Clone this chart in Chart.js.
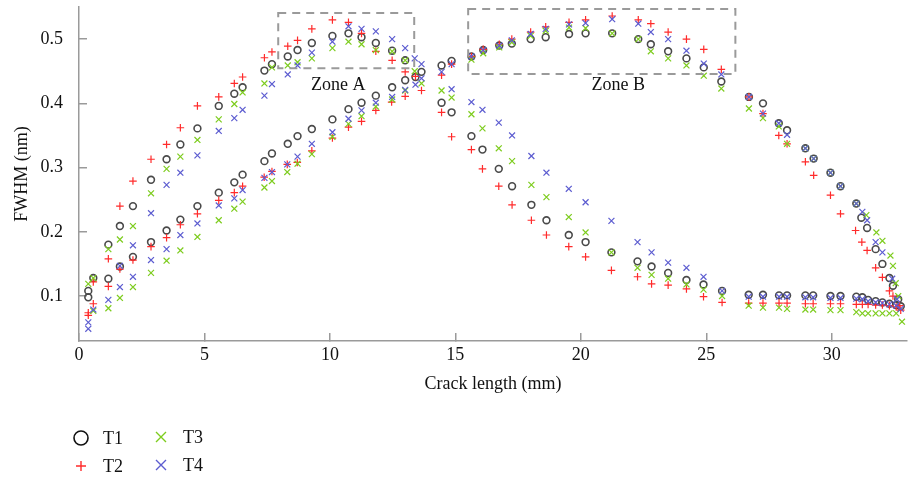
<!DOCTYPE html>
<html>
<head>
<meta charset="utf-8">
<script src="https://cdn.jsdelivr.net/npm/chart.js@4.4.0/dist/chart.umd.min.js"></script>
<style>
html, body { margin: 0; padding: 0; background: #fff; }
</style>
</head>
<body>
<canvas id="chart" width="921" height="481"></canvas>
<script>
// tick labels
const xTicks = [0, 5, 10, 15, 20, 25, 30];
const yTicks = [0.1, 0.2, 0.3, 0.4, 0.5];

// series values, [crack length mm, FWHM nm]
const t1 = [
  [0.37,0.108],[0.57,0.128],[1.17,0.180],[1.63,0.209],[2.15,0.240],[2.87,0.281],[3.49,0.313],[4.04,0.336],[4.72,0.361],[5.57,0.396],[6.19,0.415],[6.52,0.425],[7.39,0.451],[7.69,0.461],[8.32,0.473],[8.71,0.483],[9.28,0.494],[10.1,0.505],[10.74,0.509],[11.26,0.503],[11.83,0.494],[12.48,0.482],[13.0,0.467],[13.65,0.449],
  [0.37,0.098],[1.17,0.127],[1.63,0.146],[2.15,0.161],[2.87,0.184],[3.49,0.202],[4.04,0.219],[4.72,0.240],[5.57,0.261],[6.19,0.277],[6.52,0.289],[7.39,0.310],[7.69,0.322],[8.32,0.337],[8.71,0.349],[9.28,0.360],[10.1,0.375],[10.74,0.391],[11.26,0.401],[11.83,0.412],[12.48,0.425],[13.0,0.436],[13.41,0.441],
  [14.45,0.459],[14.85,0.466],[15.64,0.473],[16.11,0.483],[16.75,0.490],[17.25,0.493],[18.0,0.500],[18.6,0.503],[19.53,0.508],[20.19,0.509],[21.25,0.509],[22.29,0.500],[22.79,0.492],[23.48,0.481],[24.21,0.470],[24.9,0.456],[25.6,0.434],[26.7,0.410],[27.26,0.400],[27.89,0.369],[28.22,0.358],[28.95,0.330],[29.28,0.314],[29.95,0.292],[30.35,0.271],[30.98,0.244],[31.18,0.222],[31.41,0.206],[31.75,0.173],[32.02,0.150],[32.3,0.128],[32.44,0.116],[32.65,0.095],
  [14.45,0.401],[14.85,0.386],[15.64,0.349],[16.08,0.328],[16.73,0.298],[17.26,0.271],[18.03,0.242],[18.63,0.218],[19.52,0.195],[20.19,0.184],[21.22,0.168],[22.26,0.154],[22.82,0.146],[23.48,0.136],[24.21,0.125],[24.89,0.118],[25.63,0.108],[26.69,0.102],[27.26,0.102],[27.9,0.101],[28.22,0.101],[28.95,0.101],[29.26,0.101],[29.95,0.100],[30.35,0.100],[30.98,0.099],[31.22,0.098],[31.45,0.094],[31.75,0.092],[32.02,0.090],[32.3,0.088],[32.57,0.086],[32.75,0.084]
];
const t2 = [
  [0.37,0.074],[0.57,0.122],[1.17,0.158],[1.63,0.240],[2.15,0.279],[2.87,0.313],[3.49,0.336],[4.04,0.362],[4.72,0.396],[5.57,0.410],[6.19,0.431],[6.52,0.441],[7.39,0.471],[7.69,0.480],[8.32,0.489],[8.71,0.498],[9.28,0.516],[10.1,0.530],[10.74,0.526],[11.26,0.509],[11.83,0.481],[12.48,0.467],[13.0,0.449],[13.41,0.442],
  [0.37,0.070],[0.57,0.088],[1.17,0.115],[1.63,0.142],[2.15,0.156],[2.87,0.177],[3.49,0.191],[4.04,0.211],[4.72,0.228],[5.57,0.249],[6.19,0.261],[6.52,0.271],[7.38,0.285],[7.69,0.294],[8.30,0.305],[8.70,0.308],[9.28,0.326],[10.1,0.346],[10.74,0.363],[11.26,0.372],[11.83,0.389],[12.46,0.402],[13.0,0.411],[13.65,0.420],
  [14.45,0.444],[14.85,0.461],[15.64,0.473],[16.11,0.484],[16.75,0.492],[17.25,0.500],[18.0,0.511],[18.6,0.519],[19.53,0.526],[20.19,0.530],[21.25,0.536],[22.29,0.530],[22.79,0.524],[23.48,0.511],[24.21,0.500],[24.9,0.484],[25.6,0.453],[26.7,0.410],[27.26,0.384],[27.89,0.350],[28.22,0.337],[28.95,0.309],[29.28,0.288],[29.95,0.257],[30.35,0.228],[30.95,0.202],[31.2,0.184],[31.41,0.171],[31.75,0.144],[32.02,0.129],[32.3,0.108],[32.44,0.100],[32.7,0.085],
  [14.45,0.386],[14.85,0.348],[15.64,0.328],[16.08,0.298],[16.73,0.271],[17.26,0.242],[18.03,0.218],[18.63,0.195],[19.52,0.177],[20.19,0.161],[21.22,0.140],[22.26,0.130],[22.82,0.119],[23.48,0.117],[24.21,0.111],[24.89,0.099],[25.63,0.090],[26.69,0.089],[27.26,0.089],[27.9,0.089],[28.22,0.089],[28.95,0.088],[29.26,0.088],[29.95,0.088],[30.35,0.088],[30.98,0.087],[31.22,0.087],[31.45,0.087],[31.75,0.086],[32.02,0.086],[32.3,0.085],[32.57,0.083],[32.75,0.078]
];
const t3 = [
  [0.37,0.119],[0.57,0.128],[1.17,0.173],[1.63,0.188],[2.15,0.209],[2.87,0.260],[3.49,0.298],[4.04,0.317],[4.72,0.343],[5.57,0.375],[6.19,0.399],[6.52,0.417],[7.39,0.431],[7.69,0.456],[8.32,0.459],[8.71,0.464],[9.28,0.470],[10.1,0.486],[10.74,0.496],[11.26,0.492],[11.83,0.483],[12.48,0.481],[13.0,0.467],[13.38,0.450],
  [0.57,0.077],[1.17,0.081],[1.63,0.097],[2.15,0.114],[2.87,0.136],[3.49,0.155],[4.04,0.171],[4.72,0.192],[5.57,0.218],[6.19,0.236],[6.52,0.247],[7.39,0.269],[7.69,0.279],[8.3,0.293],[8.71,0.306],[9.28,0.321],[10.1,0.348],[10.74,0.368],[11.26,0.380],[11.83,0.395],[12.48,0.406],[13.0,0.420],[13.65,0.431],
  [15.64,0.468],[16.11,0.478],[16.75,0.487],[17.25,0.495],[18.0,0.505],[18.6,0.513],[19.53,0.518],[20.19,0.517],[21.25,0.509],[22.29,0.500],[22.79,0.481],[23.48,0.470],[24.21,0.459],[24.9,0.443],[25.6,0.423],[26.7,0.392],[27.26,0.377],[27.89,0.364],[28.22,0.337],[28.95,0.330],[29.28,0.314],[29.95,0.292],[30.35,0.271],[30.98,0.244],[31.38,0.226],[31.78,0.199],[32.02,0.186],[32.34,0.163],[32.44,0.147],[32.55,0.120],[32.65,0.100],
  [14.45,0.420],[14.85,0.409],[15.64,0.383],[16.08,0.361],[16.73,0.330],[17.26,0.310],[18.03,0.273],[18.63,0.254],[19.52,0.223],[20.19,0.199],[21.22,0.168],[22.26,0.144],[22.82,0.133],[23.48,0.127],[24.21,0.118],[24.89,0.110],[25.63,0.100],[26.69,0.085],[27.26,0.082],[27.9,0.082],[28.22,0.080],[28.95,0.079],[29.26,0.079],[29.95,0.078],[30.35,0.078],[30.98,0.075],[31.22,0.073],[31.45,0.073],[31.75,0.073],[32.02,0.073],[32.3,0.073],[32.57,0.073],[32.8,0.060]
];
const t4 = [
  [0.57,0.079],[1.63,0.147],[2.15,0.179],[2.87,0.229],[3.49,0.273],[4.04,0.292],[4.72,0.319],[5.57,0.357],[6.19,0.377],[6.52,0.390],[7.39,0.412],[7.69,0.430],[8.32,0.445],[8.71,0.459],[9.28,0.479],[10.1,0.496],[10.74,0.520],[11.26,0.516],[11.83,0.512],[12.48,0.500],[13.0,0.486],[13.38,0.470],[13.65,0.461],
  [0.37,0.059],[0.37,0.049],[1.17,0.094],[1.63,0.114],[2.15,0.130],[2.87,0.156],[3.49,0.173],[4.04,0.195],[4.72,0.213],[5.57,0.241],[6.19,0.252],[6.52,0.265],[7.39,0.284],[7.69,0.293],[8.3,0.305],[8.71,0.317],[9.28,0.337],[10.1,0.355],[10.74,0.376],[11.26,0.389],[11.83,0.401],[12.48,0.410],[13.0,0.421],[13.41,0.429],[13.65,0.439],
  [14.45,0.449],[14.85,0.461],[15.64,0.473],[16.11,0.483],[16.75,0.490],[17.25,0.498],[18.0,0.508],[18.6,0.516],[19.53,0.523],[20.19,0.525],[21.25,0.531],[22.29,0.524],[22.79,0.511],[23.48,0.500],[24.21,0.482],[24.9,0.462],[25.6,0.445],[26.7,0.410],[27.26,0.384],[27.89,0.369],[28.22,0.351],[28.95,0.330],[29.28,0.314],[29.95,0.292],[30.35,0.271],[30.98,0.244],[31.22,0.231],[31.41,0.218],[31.75,0.184],[32.02,0.168],[32.41,0.127],[32.6,0.095],
  [14.85,0.422],[15.64,0.402],[16.08,0.390],[16.73,0.370],[17.26,0.350],[18.03,0.318],[18.63,0.292],[19.52,0.267],[20.19,0.246],[21.22,0.217],[22.26,0.184],[22.82,0.168],[23.48,0.152],[24.21,0.144],[24.89,0.130],[25.63,0.108],[26.69,0.099],[27.26,0.099],[27.9,0.099],[28.22,0.099],[28.95,0.098],[29.26,0.098],[29.95,0.097],[30.35,0.097],[30.98,0.096],[31.22,0.095],[31.45,0.092],[31.75,0.090],[32.02,0.089],[32.3,0.087],[32.57,0.085],[32.75,0.080]
];

// dashed boxes, in data units
const zoneNames = ['Zone A', 'Zone B'];
const zoneX = [[7.94, 13.36], [15.51, 26.16]];
const zoneY = [[0.4547, 0.5406], [0.4458, 0.547]];
const zoneLabelAt = [[10.33, 0.4286], [21.49, 0.4286]];

const serif = "'Liberation Serif', 'DejaVu Serif', serif";
const toXY = arr => arr.map(p => ({x: p[0], y: p[1]}));

const zones = {
    id: 'zones',
    afterDatasetsDraw(chart) {
        const ctx = chart.ctx;
        const xs = chart.scales.x, ys = chart.scales.y;
        ctx.save();
        ctx.strokeStyle = '#9a9a9a';
        ctx.lineWidth = 2;
        ctx.setLineDash([8, 6]);
        for (let i = 0; i < zoneNames.length; i++) {
            const x0 = xs.getPixelForValue(zoneX[i][0]);
            const x1 = xs.getPixelForValue(zoneX[i][1]);
            const y0 = ys.getPixelForValue(zoneY[i][1]);
            const y1 = ys.getPixelForValue(zoneY[i][0]);
            ctx.strokeRect(x0, y0, x1 - x0, y1 - y0);
        }
        ctx.setLineDash([]);
        ctx.fillStyle = '#111';
        ctx.font = '18px ' + serif;
        ctx.textAlign = 'center';
        ctx.textBaseline = 'middle';
        for (let i = 0; i < zoneNames.length; i++) {
            ctx.fillText(zoneNames[i], xs.getPixelForValue(zoneLabelAt[i][0]), ys.getPixelForValue(zoneLabelAt[i][1]));
        }
        ctx.restore();
    }
};

// legend in two columns under the axis
const legendBox = {
    id: 'legendBox',
    afterDraw(chart) {
        const ctx = chart.ctx;
        const items = chart.data.datasets;
        const spots = [[81, 438], [81, 466], [161, 437], [161, 465]];
        ctx.save();
        ctx.font = '18px ' + serif;
        ctx.textBaseline = 'middle';
        ctx.textAlign = 'left';
        items.forEach((ds, i) => {
            const [cx, cy] = spots[i];
            ctx.strokeStyle = i === 0 ? '#111' : ds.borderColor;
            ctx.lineWidth = i === 0 ? 1.6 : 1.4;
            ctx.beginPath();
            if (ds.pointStyle === 'circle') {
                ctx.arc(cx, cy, 7, 0, Math.PI * 2);
            } else if (ds.pointStyle === 'cross') {
                ctx.moveTo(cx - 5, cy); ctx.lineTo(cx + 5, cy);
                ctx.moveTo(cx, cy - 5); ctx.lineTo(cx, cy + 5);
            } else {
                ctx.moveTo(cx - 5, cy - 5); ctx.lineTo(cx + 5, cy + 5);
                ctx.moveTo(cx - 5, cy + 5); ctx.lineTo(cx + 5, cy - 5);
            }
            ctx.stroke();
            ctx.fillStyle = '#111';
            ctx.fillText(ds.label, cx + 22, cy + 1);
        });
        ctx.restore();
    }
};

const axisGrid = {
    display: true,
    drawOnChartArea: false,
    drawTicks: true,
    tickLength: -8,
    color: '#9a9a9a',
    lineWidth: 1.5
};

new Chart(document.getElementById('chart'), {
    type: 'scatter',
    data: {
        datasets: [
            {label: 'T1', data: toXY(t1), pointStyle: 'circle', pointRadius: 3.4, borderColor: '#4a4a4a', backgroundColor: 'rgba(0,0,0,0)', borderWidth: 1.6, order: 4},
            {label: 'T2', data: toXY(t2), pointStyle: 'cross', pointRadius: 3.8, borderColor: '#ff2b2b', backgroundColor: '#ff2b2b', borderWidth: 1.2, order: 3},
            {label: 'T3', data: toXY(t3), pointStyle: 'crossRot', pointRadius: 4.2, borderColor: '#7dcc1e', backgroundColor: '#7dcc1e', borderWidth: 1.2, order: 2},
            {label: 'T4', data: toXY(t4), pointStyle: 'crossRot', pointRadius: 4.2, borderColor: '#5c5cd0', backgroundColor: '#5c5cd0', borderWidth: 1.2, order: 1}
        ]
    },
    options: {
        responsive: false,
        animation: false,
        layout: {padding: {top: 7, right: 14, bottom: 86, left: 0}},
        plugins: {
            legend: {display: false},
            tooltip: {enabled: false}
        },
        scales: {
            x: {
                type: 'linear',
                min: 0,
                max: 33,
                afterBuildTicks: s => { s.ticks = xTicks.map(v => ({value: v})); },
                afterFit: s => { s.height = 54; },
                grid: axisGrid,
                border: {display: true, color: '#9a9a9a', width: 1.5},
                ticks: {color: '#111', padding: 11, font: {family: serif, size: 18}, callback: v => String(v)},
                title: {display: true, text: 'Crack length (mm)', color: '#111', padding: {top: 0, bottom: 0}, font: {family: serif, size: 18}}
            },
            y: {
                type: 'linear',
                min: 0.03,
                max: 0.55,
                afterBuildTicks: s => { s.ticks = yTicks.map(v => ({value: v})); },
                afterFit: s => { s.width = 79; s.paddingTop = 0; s.paddingBottom = 0; },
                grid: axisGrid,
                border: {display: true, color: '#9a9a9a', width: 1.5},
                ticks: {color: '#111', padding: 24, font: {family: serif, size: 18}, callback: v => v.toFixed(1)},
                title: {display: true, text: 'FWHM (nm)', color: '#111', padding: {top: 11, bottom: 0}, font: {family: serif, size: 18}}
            }
        }
    },
    plugins: [zones, legendBox]
});
</script>
</body>
</html>
